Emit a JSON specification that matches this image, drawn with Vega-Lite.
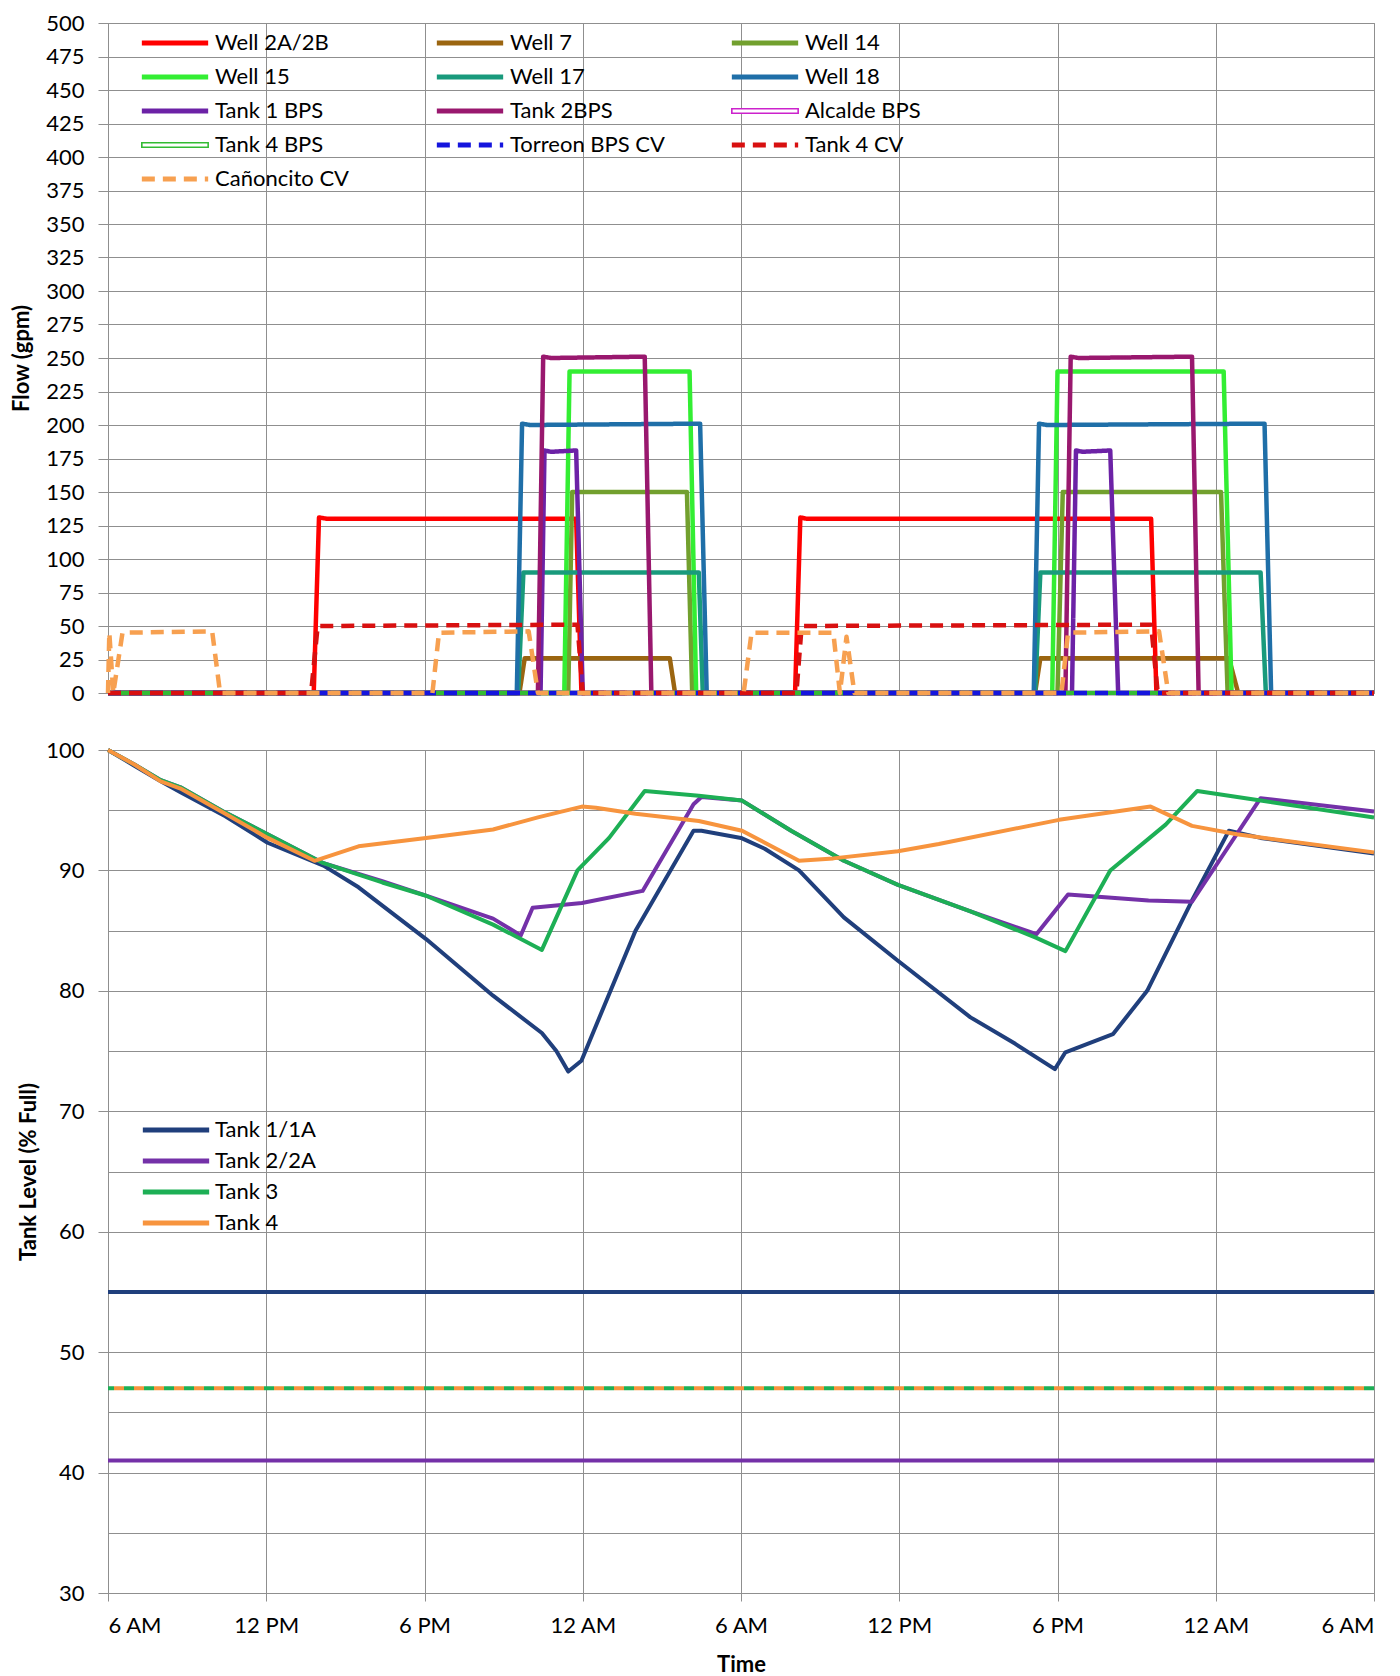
{
  "$schema": "https://vega.github.io/schema/vega-lite/v6.json",
  "padding": {"left": 10, "top": 11, "right": 5, "bottom": 5},
  "background": "white",
  "spacing": 57,
  "bounds": "flush",
  "resolve": {"scale": {"color": "independent", "strokeDash": "independent"}, "legend": {"color": "independent", "strokeDash": "independent"}},
  "config": {
    "font": "Lato",
    "view": {"stroke": "#8f8f8f", "strokeWidth": 1},
    "axis": {
      "labelFont": "Lato", "labelFontSize": 22, "labelColor": "#000",
      "titleFont": "Lato", "titleFontSize": 22, "titleFontWeight": "bold", "titleColor": "#000",
      "gridColor": "#8f8f8f", "gridWidth": 1, "gridOpacity": 1,
      "domainColor": "#8f8f8f", "tickColor": "#8f8f8f", "tickSize": 10
    },
    "legend": {
      "labelFont": "Lato", "labelFontSize": 22, "labelColor": "#000",
      "symbolType": "stroke", "symbolSize": 4400, "symbolStrokeWidth": 5,
      "labelOffset": 3, "padding": 0, "labelLimit": 400
    }
  },
  "datasets": {
    "flow": [
      {"s": "Well 2A/2B", "h": 0, "v": 0}, {"s": "Well 2A/2B", "h": 7.8, "v": 0}, {"s": "Well 2A/2B", "h": 8.0, "v": 131}, {"s": "Well 2A/2B", "h": 8.3, "v": 130}, {"s": "Well 2A/2B", "h": 17.75, "v": 130}, {"s": "Well 2A/2B", "h": 17.95, "v": 0}, {"s": "Well 2A/2B", "h": 26.05, "v": 0}, {"s": "Well 2A/2B", "h": 26.25, "v": 131}, {"s": "Well 2A/2B", "h": 26.5, "v": 130}, {"s": "Well 2A/2B", "h": 39.55, "v": 130}, {"s": "Well 2A/2B", "h": 39.75, "v": 0}, {"s": "Well 2A/2B", "h": 48, "v": 0},
      {"s": "Well 7", "h": 0, "v": 0}, {"s": "Well 7", "h": 15.6, "v": 0}, {"s": "Well 7", "h": 15.8, "v": 26}, {"s": "Well 7", "h": 21.3, "v": 26}, {"s": "Well 7", "h": 21.5, "v": 0}, {"s": "Well 7", "h": 35.15, "v": 0}, {"s": "Well 7", "h": 35.35, "v": 26}, {"s": "Well 7", "h": 42.5, "v": 26}, {"s": "Well 7", "h": 42.85, "v": 0}, {"s": "Well 7", "h": 48, "v": 0},
      {"s": "Well 14", "h": 0, "v": 0}, {"s": "Well 14", "h": 17.45, "v": 0}, {"s": "Well 14", "h": 17.6, "v": 150}, {"s": "Well 14", "h": 21.95, "v": 150}, {"s": "Well 14", "h": 22.15, "v": 0}, {"s": "Well 14", "h": 36.0, "v": 0}, {"s": "Well 14", "h": 36.2, "v": 150}, {"s": "Well 14", "h": 42.2, "v": 150}, {"s": "Well 14", "h": 42.45, "v": 0}, {"s": "Well 14", "h": 48, "v": 0},
      {"s": "Well 15", "h": 0, "v": 0}, {"s": "Well 15", "h": 17.3, "v": 0}, {"s": "Well 15", "h": 17.5, "v": 240}, {"s": "Well 15", "h": 22.05, "v": 240}, {"s": "Well 15", "h": 22.3, "v": 0}, {"s": "Well 15", "h": 35.8, "v": 0}, {"s": "Well 15", "h": 36.0, "v": 240}, {"s": "Well 15", "h": 42.3, "v": 240}, {"s": "Well 15", "h": 42.6, "v": 0}, {"s": "Well 15", "h": 48, "v": 0},
      {"s": "Well 17", "h": 0, "v": 0}, {"s": "Well 17", "h": 15.55, "v": 0}, {"s": "Well 17", "h": 15.75, "v": 90}, {"s": "Well 17", "h": 22.4, "v": 90}, {"s": "Well 17", "h": 22.55, "v": 0}, {"s": "Well 17", "h": 35.15, "v": 0}, {"s": "Well 17", "h": 35.35, "v": 90}, {"s": "Well 17", "h": 43.7, "v": 90}, {"s": "Well 17", "h": 43.9, "v": 0}, {"s": "Well 17", "h": 48, "v": 0},
      {"s": "Well 18", "h": 0, "v": 0}, {"s": "Well 18", "h": 15.5, "v": 0}, {"s": "Well 18", "h": 15.7, "v": 201}, {"s": "Well 18", "h": 16.0, "v": 200}, {"s": "Well 18", "h": 22.45, "v": 201}, {"s": "Well 18", "h": 22.7, "v": 0}, {"s": "Well 18", "h": 35.1, "v": 0}, {"s": "Well 18", "h": 35.3, "v": 201}, {"s": "Well 18", "h": 35.6, "v": 200}, {"s": "Well 18", "h": 43.85, "v": 201}, {"s": "Well 18", "h": 44.1, "v": 0}, {"s": "Well 18", "h": 48, "v": 0},
      {"s": "Tank 1 BPS", "h": 0, "v": 0}, {"s": "Tank 1 BPS", "h": 16.4, "v": 0}, {"s": "Tank 1 BPS", "h": 16.55, "v": 181}, {"s": "Tank 1 BPS", "h": 16.8, "v": 180}, {"s": "Tank 1 BPS", "h": 17.75, "v": 181}, {"s": "Tank 1 BPS", "h": 18.0, "v": 0}, {"s": "Tank 1 BPS", "h": 36.55, "v": 0}, {"s": "Tank 1 BPS", "h": 36.7, "v": 181}, {"s": "Tank 1 BPS", "h": 36.95, "v": 180}, {"s": "Tank 1 BPS", "h": 38.0, "v": 181}, {"s": "Tank 1 BPS", "h": 38.3, "v": 0}, {"s": "Tank 1 BPS", "h": 48, "v": 0},
      {"s": "Tank 2BPS", "h": 0, "v": 0}, {"s": "Tank 2BPS", "h": 16.3, "v": 0}, {"s": "Tank 2BPS", "h": 16.5, "v": 251}, {"s": "Tank 2BPS", "h": 16.8, "v": 250}, {"s": "Tank 2BPS", "h": 20.35, "v": 251}, {"s": "Tank 2BPS", "h": 20.6, "v": 0}, {"s": "Tank 2BPS", "h": 36.3, "v": 0}, {"s": "Tank 2BPS", "h": 36.5, "v": 251}, {"s": "Tank 2BPS", "h": 36.8, "v": 250}, {"s": "Tank 2BPS", "h": 41.1, "v": 251}, {"s": "Tank 2BPS", "h": 41.35, "v": 0}, {"s": "Tank 2BPS", "h": 48, "v": 0},
      {"s": "Alcalde BPS", "h": 0, "v": 0}, {"s": "Alcalde BPS", "h": 48, "v": 0},
      {"s": "Tank 4 BPS", "h": 0, "v": 0}, {"s": "Tank 4 BPS", "h": 48, "v": 0},
      {"s": "Torreon BPS CV", "h": 0, "v": 0}, {"s": "Torreon BPS CV", "h": 48, "v": 0},
      {"s": "Tank 4 CV", "h": 0, "v": 0}, {"s": "Tank 4 CV", "h": 7.7, "v": 0}, {"s": "Tank 4 CV", "h": 7.95, "v": 50}, {"s": "Tank 4 CV", "h": 17.8, "v": 51}, {"s": "Tank 4 CV", "h": 18.0, "v": 0}, {"s": "Tank 4 CV", "h": 26.1, "v": 0}, {"s": "Tank 4 CV", "h": 26.3, "v": 50}, {"s": "Tank 4 CV", "h": 39.55, "v": 51}, {"s": "Tank 4 CV", "h": 39.8, "v": 0}, {"s": "Tank 4 CV", "h": 48, "v": 0},
      {"s": "Cañoncito CV", "h": 0, "v": 0}, {"s": "Cañoncito CV", "h": 0.05, "v": 45}, {"s": "Cañoncito CV", "h": 0.2, "v": 0}, {"s": "Cañoncito CV", "h": 0.55, "v": 45}, {"s": "Cañoncito CV", "h": 3.95, "v": 46}, {"s": "Cañoncito CV", "h": 4.25, "v": 0}, {"s": "Cañoncito CV", "h": 12.3, "v": 0}, {"s": "Cañoncito CV", "h": 12.55, "v": 45}, {"s": "Cañoncito CV", "h": 15.95, "v": 46}, {"s": "Cañoncito CV", "h": 16.3, "v": 0}, {"s": "Cañoncito CV", "h": 24.1, "v": 0}, {"s": "Cañoncito CV", "h": 24.4, "v": 45}, {"s": "Cañoncito CV", "h": 27.5, "v": 45}, {"s": "Cañoncito CV", "h": 27.75, "v": 0}, {"s": "Cañoncito CV", "h": 28.0, "v": 42}, {"s": "Cañoncito CV", "h": 28.3, "v": 0}, {"s": "Cañoncito CV", "h": 36.15, "v": 0}, {"s": "Cañoncito CV", "h": 36.4, "v": 45}, {"s": "Cañoncito CV", "h": 39.85, "v": 46}, {"s": "Cañoncito CV", "h": 40.2, "v": 0}, {"s": "Cañoncito CV", "h": 48, "v": 0}
    ],
    "level": [
      {"s": "Tank 1/1A", "h": 0, "v": 100}, {"s": "Tank 1/1A", "h": 1, "v": 98.7}, {"s": "Tank 1/1A", "h": 2, "v": 97.4}, {"s": "Tank 1/1A", "h": 2.75, "v": 96.5}, {"s": "Tank 1/1A", "h": 4.45, "v": 94.5}, {"s": "Tank 1/1A", "h": 6.05, "v": 92.3}, {"s": "Tank 1/1A", "h": 8.17, "v": 90.4}, {"s": "Tank 1/1A", "h": 9.5, "v": 88.6}, {"s": "Tank 1/1A", "h": 12.06, "v": 84.3}, {"s": "Tank 1/1A", "h": 14.6, "v": 79.6}, {"s": "Tank 1/1A", "h": 16.45, "v": 76.5}, {"s": "Tank 1/1A", "h": 17.0, "v": 75.0}, {"s": "Tank 1/1A", "h": 17.45, "v": 73.3}, {"s": "Tank 1/1A", "h": 17.95, "v": 74.2}, {"s": "Tank 1/1A", "h": 20.0, "v": 85.0}, {"s": "Tank 1/1A", "h": 22.2, "v": 93.3}, {"s": "Tank 1/1A", "h": 22.5, "v": 93.3}, {"s": "Tank 1/1A", "h": 24.0, "v": 92.7}, {"s": "Tank 1/1A", "h": 24.9, "v": 91.8}, {"s": "Tank 1/1A", "h": 26.2, "v": 90.0}, {"s": "Tank 1/1A", "h": 27.9, "v": 86.1}, {"s": "Tank 1/1A", "h": 29.95, "v": 82.5}, {"s": "Tank 1/1A", "h": 32.7, "v": 77.8}, {"s": "Tank 1/1A", "h": 34.4, "v": 75.6}, {"s": "Tank 1/1A", "h": 35.9, "v": 73.5}, {"s": "Tank 1/1A", "h": 36.3, "v": 74.9}, {"s": "Tank 1/1A", "h": 38.1, "v": 76.4}, {"s": "Tank 1/1A", "h": 39.4, "v": 80.0}, {"s": "Tank 1/1A", "h": 41.1, "v": 87.5}, {"s": "Tank 1/1A", "h": 42.5, "v": 93.3}, {"s": "Tank 1/1A", "h": 43.7, "v": 92.7}, {"s": "Tank 1/1A", "h": 48, "v": 91.4},
      {"s": "Tank 2/2A", "h": 0, "v": 100}, {"s": "Tank 2/2A", "h": 1, "v": 98.8}, {"s": "Tank 2/2A", "h": 2, "v": 97.5}, {"s": "Tank 2/2A", "h": 2.75, "v": 96.9}, {"s": "Tank 2/2A", "h": 4.45, "v": 94.8}, {"s": "Tank 2/2A", "h": 6.05, "v": 93.0}, {"s": "Tank 2/2A", "h": 8.17, "v": 90.6}, {"s": "Tank 2/2A", "h": 10.4, "v": 89.1}, {"s": "Tank 2/2A", "h": 12.06, "v": 87.9}, {"s": "Tank 2/2A", "h": 14.6, "v": 86.0}, {"s": "Tank 2/2A", "h": 15.65, "v": 84.6}, {"s": "Tank 2/2A", "h": 16.1, "v": 86.9}, {"s": "Tank 2/2A", "h": 17.97, "v": 87.3}, {"s": "Tank 2/2A", "h": 20.27, "v": 88.3}, {"s": "Tank 2/2A", "h": 22.2, "v": 95.5}, {"s": "Tank 2/2A", "h": 22.5, "v": 96.1}, {"s": "Tank 2/2A", "h": 24.04, "v": 95.8}, {"s": "Tank 2/2A", "h": 25.9, "v": 93.3}, {"s": "Tank 2/2A", "h": 27.9, "v": 90.8}, {"s": "Tank 2/2A", "h": 29.95, "v": 88.8}, {"s": "Tank 2/2A", "h": 32.7, "v": 86.6}, {"s": "Tank 2/2A", "h": 35.2, "v": 84.7}, {"s": "Tank 2/2A", "h": 36.4, "v": 88.0}, {"s": "Tank 2/2A", "h": 39.45, "v": 87.5}, {"s": "Tank 2/2A", "h": 41.1, "v": 87.4}, {"s": "Tank 2/2A", "h": 43.7, "v": 96.0}, {"s": "Tank 2/2A", "h": 48, "v": 94.9},
      {"s": "Tank 3", "h": 0, "v": 100}, {"s": "Tank 3", "h": 1, "v": 98.8}, {"s": "Tank 3", "h": 2, "v": 97.5}, {"s": "Tank 3", "h": 2.75, "v": 96.9}, {"s": "Tank 3", "h": 4.45, "v": 94.8}, {"s": "Tank 3", "h": 6.05, "v": 93.0}, {"s": "Tank 3", "h": 8.17, "v": 90.6}, {"s": "Tank 3", "h": 10.4, "v": 89.0}, {"s": "Tank 3", "h": 12.06, "v": 87.9}, {"s": "Tank 3", "h": 14.6, "v": 85.5}, {"s": "Tank 3", "h": 16.45, "v": 83.4}, {"s": "Tank 3", "h": 17.8, "v": 90.0}, {"s": "Tank 3", "h": 19.0, "v": 92.7}, {"s": "Tank 3", "h": 20.35, "v": 96.6}, {"s": "Tank 3", "h": 22.4, "v": 96.2}, {"s": "Tank 3", "h": 24.04, "v": 95.8}, {"s": "Tank 3", "h": 25.9, "v": 93.3}, {"s": "Tank 3", "h": 27.9, "v": 90.8}, {"s": "Tank 3", "h": 29.95, "v": 88.8}, {"s": "Tank 3", "h": 32.7, "v": 86.6}, {"s": "Tank 3", "h": 35.2, "v": 84.4}, {"s": "Tank 3", "h": 36.3, "v": 83.3}, {"s": "Tank 3", "h": 38.0, "v": 90.0}, {"s": "Tank 3", "h": 40.1, "v": 93.8}, {"s": "Tank 3", "h": 41.3, "v": 96.6}, {"s": "Tank 3", "h": 43.7, "v": 95.8}, {"s": "Tank 3", "h": 48, "v": 94.4},
      {"s": "Tank 4", "h": 0, "v": 100}, {"s": "Tank 4", "h": 1, "v": 98.8}, {"s": "Tank 4", "h": 2, "v": 97.4}, {"s": "Tank 4", "h": 2.75, "v": 96.8}, {"s": "Tank 4", "h": 4.45, "v": 94.7}, {"s": "Tank 4", "h": 6.05, "v": 92.7}, {"s": "Tank 4", "h": 7.83, "v": 90.8}, {"s": "Tank 4", "h": 9.5, "v": 92.0}, {"s": "Tank 4", "h": 12.06, "v": 92.7}, {"s": "Tank 4", "h": 14.6, "v": 93.4}, {"s": "Tank 4", "h": 16.3, "v": 94.4}, {"s": "Tank 4", "h": 17.97, "v": 95.3}, {"s": "Tank 4", "h": 18.5, "v": 95.2}, {"s": "Tank 4", "h": 20.0, "v": 94.7}, {"s": "Tank 4", "h": 22.4, "v": 94.1}, {"s": "Tank 4", "h": 24.04, "v": 93.3}, {"s": "Tank 4", "h": 26.2, "v": 90.8}, {"s": "Tank 4", "h": 27.5, "v": 91.0}, {"s": "Tank 4", "h": 29.95, "v": 91.6}, {"s": "Tank 4", "h": 31.5, "v": 92.2}, {"s": "Tank 4", "h": 36.06, "v": 94.2}, {"s": "Tank 4", "h": 39.53, "v": 95.3}, {"s": "Tank 4", "h": 41.1, "v": 93.7}, {"s": "Tank 4", "h": 42.8, "v": 93.0}, {"s": "Tank 4", "h": 48, "v": 91.5}
    ],
    "mins": [
      {"s": "Tank 1/1A", "v": 55},
      {"s": "Tank 2/2A", "v": 41},
      {"s": "Tank 3", "v": 47},
      {"s": "Tank 4", "v": 47}
    ]
  },
  "vconcat": [
    {
      "width": 1266,
      "height": 670,
      "data": {"name": "flow"},
      "mark": {"type": "line", "strokeWidth": 4.5, "strokeJoin": "round"},
      "encoding": {
        "x": {
          "field": "h", "type": "quantitative",
          "scale": {"domain": [0, 48], "nice": false, "zero": false},
          "axis": {"values": [0, 6, 12, 18, 24, 30, 36, 42, 48], "labels": false, "ticks": false, "domain": false, "title": null, "grid": true}
        },
        "y": {
          "field": "v", "type": "quantitative",
          "scale": {"domain": [0, 500], "nice": false},
          "axis": {"values": [0, 25, 50, 75, 100, 125, 150, 175, 200, 225, 250, 275, 300, 325, 350, 375, 400, 425, 450, 475, 500], "title": "Flow (gpm)", "labelPadding": 14, "titlePadding": 12, "domain": false}
        },
        "color": {
          "field": "s", "type": "nominal",
          "scale": {
            "domain": ["Well 2A/2B", "Well 7", "Well 14", "Well 15", "Well 17", "Well 18", "Tank 1 BPS", "Tank 2BPS", "Alcalde BPS", "Tank 4 BPS", "Torreon BPS CV", "Tank 4 CV", "Cañoncito CV"],
            "range": ["#ff0000", "#9b6510", "#72a02e", "#33ee33", "#199a7c", "#1f6fa8", "#6c22a6", "#99186e", "#cc22cc", "#33bb33", "#1515dd", "#d81010", "#f7a050"]
          },
          "legend": {"orient": "none", "legendX": 56, "legendY": 9, "title": null, "columns": 3, "direction": "horizontal", "gridAlign": "all", "rowPadding": 12, "columnPadding": 56, "labelOffset": 29,
            "encode": {"symbols": {"update": {
              "shape": {"signal": "indexof(['Alcalde BPS','Tank 4 BPS'], datum.value) >= 0 ? 'M-1,-0.07H1V0.07H-1Z' : 'stroke'"},
              "fill": {"signal": "indexof(['Alcalde BPS','Tank 4 BPS'], datum.value) >= 0 ? 'white' : 'transparent'"},
              "strokeWidth": {"signal": "indexof(['Alcalde BPS','Tank 4 BPS'], datum.value) >= 0 ? 1.6 : 5"}
            }}}
          }
        },
        "strokeDash": {
          "field": "s", "type": "nominal",
          "scale": {
            "domain": ["Well 2A/2B", "Well 7", "Well 14", "Well 15", "Well 17", "Well 18", "Tank 1 BPS", "Tank 2BPS", "Alcalde BPS", "Tank 4 BPS", "Torreon BPS CV", "Tank 4 CV", "Cañoncito CV"],
            "range": [[1, 0], [1, 0], [1, 0], [1, 0], [1, 0], [1, 0], [1, 0], [1, 0], [1, 0], [1, 0], [13, 8], [13, 8], [13, 8]]
          },
          "legend": {"orient": "none", "legendX": 56, "legendY": 9, "title": null, "columns": 3, "direction": "horizontal", "gridAlign": "all", "rowPadding": 12, "columnPadding": 56, "labelOffset": 29}
        }
      }
    },
    {
      "width": 1266,
      "height": 843,
      "layer": [
        {
          "data": {"name": "mins"},
          "transform": [{"filter": "datum.s === 'Tank 1/1A'"}],
          "mark": {"type": "rule", "color": "#203f7c", "strokeWidth": 4},
          "encoding": {"y": {"field": "v", "type": "quantitative"}}
        },
        {
          "data": {"name": "mins"},
          "transform": [{"filter": "datum.s === 'Tank 2/2A'"}],
          "mark": {"type": "rule", "color": "#7431a8", "strokeWidth": 4},
          "encoding": {"y": {"field": "v", "type": "quantitative"}}
        },
        {
          "data": {"name": "mins"},
          "transform": [{"filter": "datum.s === 'Tank 3'"}],
          "mark": {"type": "rule", "color": "#1daf55", "strokeWidth": 4, "strokeDash": [10, 10]},
          "encoding": {"y": {"field": "v", "type": "quantitative"}}
        },
        {
          "data": {"name": "mins"},
          "transform": [{"filter": "datum.s === 'Tank 4'"}],
          "mark": {"type": "rule", "color": "#f7943e", "strokeWidth": 4, "strokeDash": [10, 10], "strokeDashOffset": 10},
          "encoding": {"y": {"field": "v", "type": "quantitative"}}
        },
        {
          "data": {"name": "level"},
          "mark": {"type": "line", "strokeWidth": 4, "strokeJoin": "round"},
          "encoding": {
            "x": {
              "field": "h", "type": "quantitative",
              "scale": {"domain": [0, 48], "nice": false, "zero": false},
              "axis": {"values": [0, 6, 12, 18, 24, 30, 36, 42, 48], "title": "Time", "grid": true, "domain": false, "tickSize": 8, "labelPadding": 14, "titlePadding": 18,
                "labelExpr": "['6 AM','12 PM','6 PM','12 AM'][(datum.value/6)%4]"}
            },
            "y": {
              "field": "v", "type": "quantitative",
              "scale": {"domain": [30, 100], "nice": false, "zero": false},
              "axis": {"values": [30, 35, 40, 45, 50, 55, 60, 65, 70, 75, 80, 85, 90, 95, 100], "title": "Tank Level (% Full)", "labelPadding": 14, "titlePadding": 5, "domain": false,
                "labelExpr": "datum.value % 10 === 0 ? datum.label : ''",
                "tickOpacity": {"condition": {"test": "datum.value % 10 === 0", "value": 1}, "value": 0}}
            },
            "color": {
              "field": "s", "type": "nominal",
              "scale": {"domain": ["Tank 1/1A", "Tank 2/2A", "Tank 3", "Tank 4"], "range": ["#203f7c", "#7431a8", "#1daf55", "#f7943e"]},
              "legend": {"orient": "none", "legendX": 32, "legendY": 369, "title": null, "clipHeight": 22, "rowPadding": 9}
            }
          }
        }
      ]
    }
  ]
}
